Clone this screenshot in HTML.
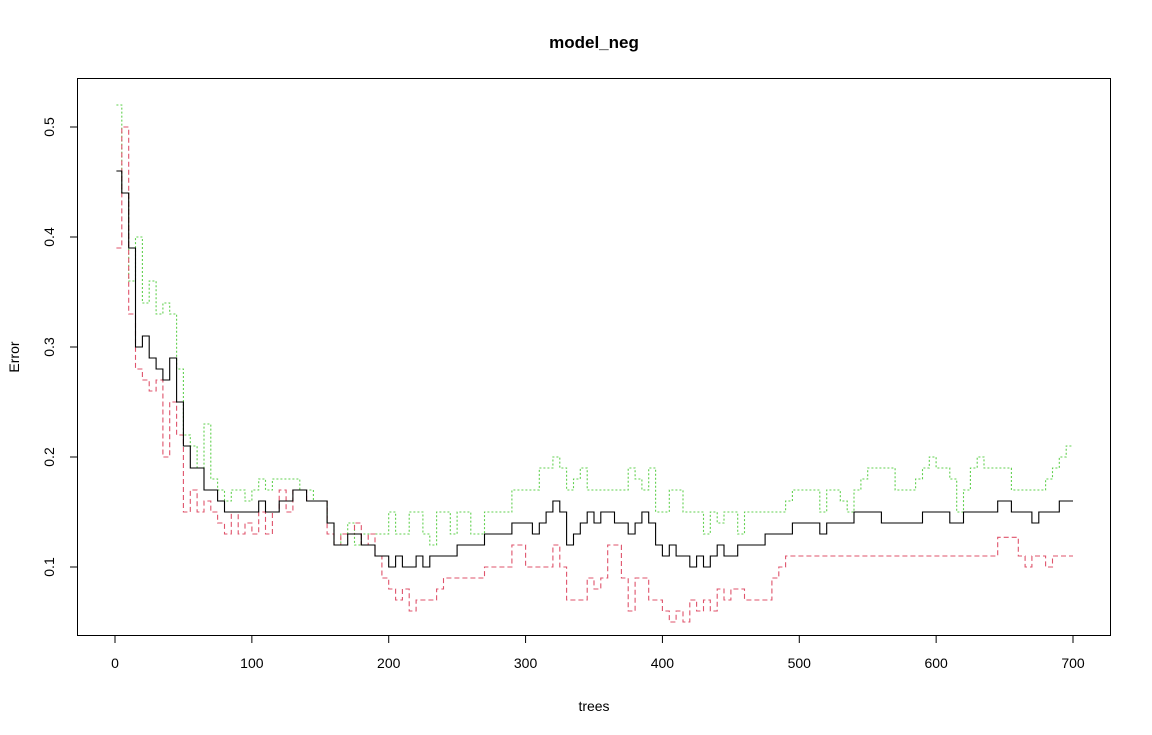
<!DOCTYPE html>
<html><head><meta charset="utf-8"><style>
body{margin:0;background:#fff}
svg{display:block;font-family:"Liberation Sans",Arial,sans-serif}
</style></head><body>
<svg id="chart" width="1152" height="735" viewBox="0 0 1152 735">
<rect x="0" y="0" width="1152" height="735" fill="#fff"/>
<text x="594" y="48" text-anchor="middle" font-size="17" font-weight="bold">model_neg</text>
<rect x="77.5" y="78.5" width="1033" height="557" fill="none" stroke="#000" stroke-width="1"/>
<text x="594" y="711" text-anchor="middle" font-size="14">trees</text>
<text x="0" y="0" transform="translate(19,357) rotate(-90)" text-anchor="middle" font-size="14">Error</text>
<g id="xaxis"></g>
<g id="yaxis"></g>
<g id="series"></g>
</svg>
<script>
const trees=[];for(let t=0;t<=700;t+=5)trees.push(t===0?1:t);
const xTicks=[0,100,200,300,400,500,600,700];
const yTicks=[0.1,0.2,0.3,0.4,0.5];
const oob=[.46,.44,.39,.30,.31,.29,.28,.27,.29,.25,.21,.19,.19,.17,.17,.16,.15,.15,.15,.15,.15,.16,.15,.15,.16,.16,.17,.17,.16,.16,.16,.14,.12,.12,.13,.13,.12,.12,.11,.11,.10,.11,.10,.10,.11,.10,.11,.11,.11,.11,.12,.12,.12,.12,.13,.13,.13,.13,.14,.14,.14,.13,.14,.15,.16,.15,.12,.13,.14,.15,.14,.15,.15,.14,.14,.13,.14,.15,.14,.12,.11,.12,.11,.11,.10,.11,.10,.11,.12,.11,.11,.12,.12,.12,.12,.13,.13,.13,.13,.14,.14,.14,.14,.13,.14,.14,.14,.14,.15,.15,.15,.15,.14,.14,.14,.14,.14,.14,.15,.15,.15,.15,.14,.14,.15,.15,.15,.15,.15,.16,.16,.15,.15,.15,.14,.15,.15,.15,.16,.16,.16];
const classNeg=[.39,.50,.33,.28,.27,.26,.27,.20,.25,.22,.15,.17,.15,.16,.15,.14,.13,.15,.13,.14,.13,.15,.13,.15,.17,.15,.17,.17,.16,.16,.16,.13,.12,.13,.13,.14,.12,.13,.11,.09,.08,.07,.08,.06,.07,.07,.07,.08,.09,.09,.09,.09,.09,.09,.10,.10,.10,.10,.12,.12,.10,.10,.10,.10,.12,.10,.07,.07,.07,.09,.08,.09,.12,.12,.09,.06,.09,.09,.07,.07,.06,.05,.06,.05,.07,.06,.07,.06,.08,.07,.08,.08,.07,.07,.07,.07,.09,.10,.11,.11,.11,.11,.11,.11,.11,.11,.11,.11,.11,.11,.11,.11,.11,.11,.11,.11,.11,.11,.11,.11,.11,.11,.11,.11,.11,.11,.11,.11,.11,.127,.127,.127,.11,.10,.11,.11,.10,.11,.11,.11,.11];
const classPos=[.52,.44,.36,.40,.34,.36,.33,.34,.33,.28,.22,.21,.19,.23,.18,.17,.16,.17,.17,.16,.17,.18,.17,.18,.18,.18,.18,.17,.17,.16,.16,.14,.12,.13,.14,.12,.13,.13,.13,.13,.15,.13,.13,.15,.15,.13,.12,.15,.15,.13,.15,.15,.13,.13,.15,.15,.15,.15,.17,.17,.17,.17,.19,.19,.20,.19,.17,.18,.19,.17,.17,.17,.17,.17,.17,.19,.18,.17,.19,.15,.15,.17,.17,.15,.15,.15,.13,.15,.14,.15,.15,.13,.15,.15,.15,.15,.15,.15,.16,.17,.17,.17,.17,.15,.17,.17,.16,.15,.17,.18,.19,.19,.19,.19,.17,.17,.17,.18,.19,.20,.19,.19,.18,.15,.17,.19,.20,.19,.19,.19,.19,.17,.17,.17,.17,.17,.18,.19,.20,.21,.21];
const NS='http://www.w3.org/2000/svg';
const xS=t=>115+t*958/700;
const yS=v=>567-(v-0.1)*1100;
function mk(tag,attrs,parent){const e=document.createElementNS(NS,tag);for(const k in attrs)e.setAttribute(k,attrs[k]);parent.appendChild(e);return e;}
const xa=document.getElementById('xaxis'),ya=document.getElementById('yaxis'),sg=document.getElementById('series');
mk('line',{x1:xS(0),x2:xS(700),y1:635.5,y2:635.5,stroke:'#000'},xa);
xTicks.forEach(t=>{
 const l=mk('line',{x1:xS(t),x2:xS(t),y1:636,y2:643,stroke:'#000'},xa);
 
 
 const tx=mk('text',{x:xS(t),y:668,'text-anchor':'middle','font-size':'14'},xa);tx.textContent=t;
 
 
});
mk('line',{x1:77.5,x2:77.5,y1:yS(0.1),y2:yS(0.5),stroke:'#000'},ya);
yTicks.forEach(v=>{
 const l=mk('line',{x1:70,x2:77,y1:yS(v),y2:yS(v),stroke:'#000'},ya);
 
 
 const tx=mk('text',{x:0,y:0,transform:`translate(54,${yS(v)}) rotate(-90)`,'text-anchor':'middle','font-size':'14'},ya);tx.textContent=v.toFixed(1);
 
 
});
function series(vals,color,dash,name){
 let d='';
 vals.forEach((v,i)=>{
  const x=xS(trees[i]).toFixed(1),y=yS(v).toFixed(1);
  if(i===0)d+='M'+x+','+y;else d+='H'+x+'V'+y;
 });
 const p=mk('path',{d:d,fill:'none',stroke:color,'stroke-width':1.1,'stroke-dasharray':dash},sg);
 
 
}
series(classPos,'#61D04F','2,2','class-pos-error-line');
series(classNeg,'#DF536B','5,3','class-neg-error-line');
series(oob,'#000','none','oob-error-line');
</script>
</body></html>
